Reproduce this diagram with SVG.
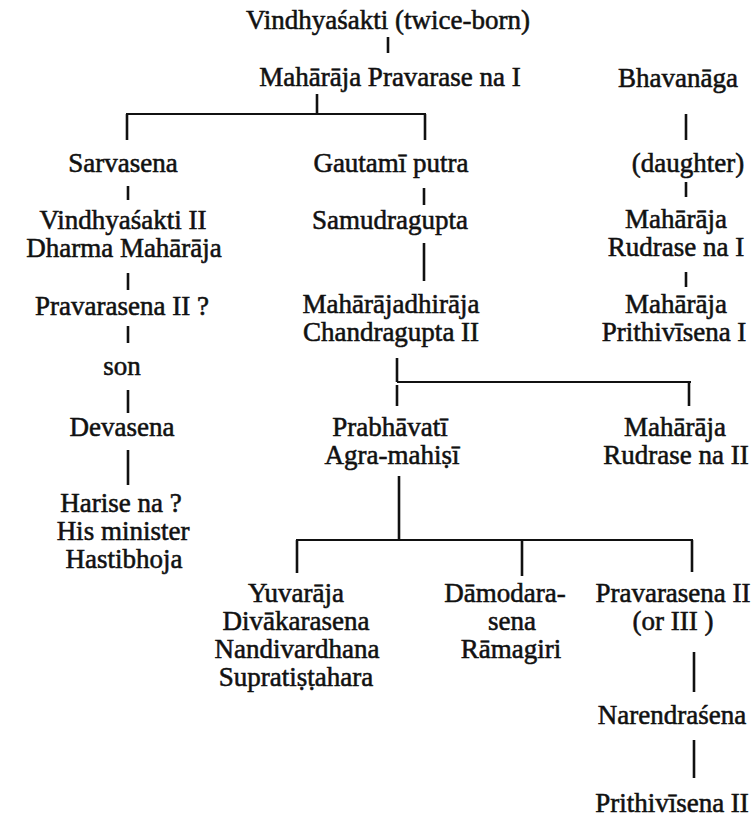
<svg xmlns="http://www.w3.org/2000/svg" width="754" height="820" viewBox="0 0 754 820">
  <style>
    .lbl { font-family: "Liberation Serif", "DejaVu Serif", serif; font-size: 27px; fill: #111; stroke: #111; stroke-width: 0.55; text-anchor: middle; }
    .ln { stroke: #111; stroke-width: 2.6; fill: none; stroke-linecap: butt; }
    .hz { stroke: #111; stroke-width: 2.2; fill: none; }
  </style>
  <rect width="754" height="820" fill="#ffffff"/>

  <!-- descent lines -->
  <g id="connectors">
    <line class="ln" x1="388" y1="37" x2="388" y2="53"/>
    <line class="ln" x1="317" y1="94" x2="317" y2="114"/>
    <line class="hz" x1="126" y1="114" x2="426" y2="114"/>
    <line class="ln" x1="127" y1="114" x2="127" y2="140"/>
    <line class="ln" x1="425" y1="114" x2="425" y2="140"/>

    <line class="ln" x1="128" y1="186" x2="128" y2="200"/>
    <line class="ln" x1="128" y1="273" x2="128" y2="290"/>
    <line class="ln" x1="128" y1="326" x2="128" y2="343"/>
    <line class="ln" x1="128" y1="390" x2="128" y2="413"/>
    <line class="ln" x1="128" y1="450" x2="128" y2="485"/>

    <line class="ln" x1="424" y1="188" x2="424" y2="205"/>
    <line class="ln" x1="424" y1="243" x2="424" y2="281"/>

    <line class="ln" x1="686" y1="114" x2="686" y2="140"/>
    <line class="ln" x1="686" y1="182" x2="686" y2="197"/>
    <line class="ln" x1="686" y1="272" x2="686" y2="287"/>

    <line class="ln" x1="397" y1="358" x2="397" y2="382"/>
    <line class="hz" x1="397" y1="382" x2="691" y2="382"/>
    <line class="ln" x1="397" y1="385" x2="397" y2="406"/>
    <line class="ln" x1="689" y1="382" x2="689" y2="406"/>

    <line class="ln" x1="399" y1="476" x2="399" y2="540"/>
    <line class="hz" x1="296" y1="540" x2="693" y2="540"/>
    <line class="ln" x1="297" y1="540" x2="297" y2="573"/>
    <line class="ln" x1="522" y1="540" x2="522" y2="576"/>
    <line class="ln" x1="692" y1="540" x2="692" y2="572"/>

    <line class="ln" x1="694" y1="652" x2="694" y2="692"/>
    <line class="ln" x1="694" y1="740" x2="694" y2="778"/>
  </g>

  <g id="vindhyasakti">
    <text class="lbl" x="388" y="29">Vindhyaśakti (twice-born)</text>
  </g>
  <g id="pravarasena-1">
    <text class="lbl" x="390" y="86">Mahārāja Pravarase na I</text>
  </g>

  <g id="sarvasena">
    <text class="lbl" x="123" y="172">Sarvasena</text>
  </g>
  <g id="vindhyasakti-2">
    <text class="lbl" x="123" y="229">Vindhyaśakti II</text>
    <text class="lbl" x="124" y="257">Dharma Mahārāja</text>
  </g>
  <g id="pravarasena-2-q">
    <text class="lbl" x="122" y="315">Pravarasena II ?</text>
  </g>
  <g id="son">
    <text class="lbl" x="122" y="375">son</text>
  </g>
  <g id="devasena">
    <text class="lbl" x="122" y="436">Devasena</text>
  </g>
  <g id="harisena">
    <text class="lbl" x="121" y="512">Harise na ?</text>
    <text class="lbl" x="123" y="540">His minister</text>
    <text class="lbl" x="124" y="568">Hastibhoja</text>
  </g>

  <g id="gautamiputra">
    <text class="lbl" x="391" y="172">Gautamī putra</text>
  </g>
  <g id="samudragupta">
    <text class="lbl" x="390" y="229">Samudragupta</text>
  </g>
  <g id="chandragupta-2">
    <text class="lbl" x="391" y="313">Mahārājadhirāja</text>
    <text class="lbl" x="391" y="341">Chandragupta II</text>
  </g>

  <g id="bhavanaga">
    <text class="lbl" x="678" y="87">Bhavanāga</text>
  </g>
  <g id="daughter">
    <text class="lbl" x="688" y="172">(daughter)</text>
  </g>
  <g id="rudrasena-1">
    <text class="lbl" x="676" y="228">Mahārāja</text>
    <text class="lbl" x="676" y="256">Rudrase na I</text>
  </g>
  <g id="prithivisena-1">
    <text class="lbl" x="676" y="313">Mahārāja</text>
    <text class="lbl" x="674" y="341">Prithivīsena I</text>
  </g>

  <g id="prabhavati">
    <text class="lbl" x="390" y="436">Prabhāvatī</text>
    <text class="lbl" x="392" y="464">Agra-mahiṣī</text>
  </g>
  <g id="rudrasena-2">
    <text class="lbl" x="675" y="436">Mahārāja</text>
    <text class="lbl" x="676" y="464">Rudrase na II</text>
  </g>

  <g id="divakarasena">
    <text class="lbl" x="296" y="602">Yuvarāja</text>
    <text class="lbl" x="296" y="630">Divākarasena</text>
    <text class="lbl" x="297" y="658">Nandivardhana</text>
    <text class="lbl" x="296" y="686">Supratiṣṭahara</text>
  </g>
  <g id="damodarasena">
    <text class="lbl" x="505" y="602">Dāmodara-</text>
    <text class="lbl" x="512" y="630">sena</text>
    <text class="lbl" x="511" y="658">Rāmagiri</text>
  </g>
  <g id="pravarasena-2">
    <text class="lbl" x="673" y="602">Pravarasena II</text>
    <text class="lbl" x="673" y="630">(or III )</text>
  </g>
  <g id="narendrasena">
    <text class="lbl" x="672" y="724">Narendraśena</text>
  </g>
  <g id="prithivisena-2">
    <text class="lbl" x="672" y="812">Prithivīsena II</text>
  </g>
</svg>
